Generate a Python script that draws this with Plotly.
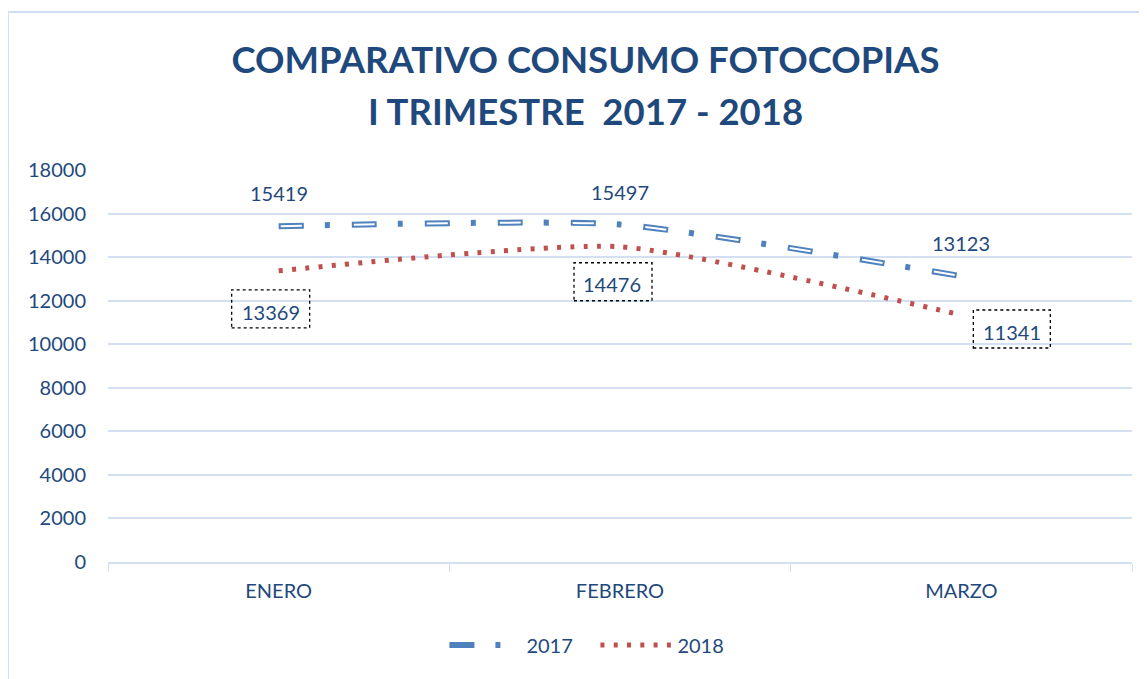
import plotly.graph_objects as go

# ---- data ----
meses = ["ENERO", "FEBRERO", "MARZO"]
consumo_2017 = [15419, 15497, 13123]
consumo_2018 = [13369, 14476, 11341]
y_ticks = [0, 2000, 4000, 6000, 8000, 10000, 12000, 14000, 16000, 18000]
y_tick_labels = [str(v) for v in y_ticks]
title_line1 = "COMPARATIVO CONSUMO FOTOCOPIAS"
title_line2 = "I TRIMESTRE\u00a0\u00a02017 - 2018"

FONT = "Lato"
TXT = "#1F497D"
BLUE = "#4F81BD"
RED = "#C0504D"
GRID = "#D3E0F1"
SMOOTH = 0.55

plot_top, plot_h, plot_l, plot_w = 162, 392, 100, 1024

fig = go.Figure()

# 2017: compound (double) long-dash-dot line
fig.add_trace(go.Scatter(
    x=meses, y=consumo_2017, mode="lines", name="2017",
    line=dict(color=BLUE, width=6, shape="spline", smoothing=SMOOTH,
              dash="25px,21px,5px,22px"),
))
fig.add_trace(go.Scatter(
    x=meses, y=consumo_2017, mode="lines", name="2017 inner", showlegend=False,
    hoverinfo="skip",
    line=dict(color="white", width=2, shape="spline", smoothing=SMOOTH,
              dash="0px,2px,21px,50px"),
))
# 2018: dotted line
fig.add_trace(go.Scatter(
    x=meses, y=consumo_2018, mode="lines", name="2018",
    line=dict(color=RED, width=5, shape="spline", smoothing=SMOOTH,
              dash="4px,9.3px"),
))

annotations = []
shapes = []

# second title line (screen centre x≈585, y≈112)
annotations.append(dict(x=(577 - plot_l) / plot_w, y=1 + (plot_top - 103.0) / plot_h,
                        xref="paper", yref="paper",
                        xanchor="center", yanchor="middle", showarrow=False,
                        text="<b>" + title_line2 + "</b>",
                        font=dict(family=FONT, size=36.5, color=TXT)))

# 2017 labels above the points
for m, v in zip(meses, consumo_2017):
    annotations.append(dict(x=m, y=v, xref="x", yref="y", text=str(v),
                            showarrow=False, yshift=33,
                            font=dict(family=FONT, size=20, color=TXT)))

# 2018 labels with dotted boxes
lab_shift = [(-8, -41), (-8, -37), (51, -17)]
box_off = [(-47, 31, -57, -19), (-46, 32, -54, -16), (12, 89, -33, 5)]
for i, (m, v) in enumerate(zip(meses, consumo_2018)):
    dx, dy = lab_shift[i]
    annotations.append(dict(x=m, y=v, xref="x", yref="y", text=str(v),
                            showarrow=False, xshift=dx, yshift=dy,
                            font=dict(family=FONT, size=20, color=TXT)))
    x0, x1, y0, y1 = box_off[i]
    shapes.append(dict(type="rect", xref="x", yref="y",
                       xsizemode="pixel", ysizemode="pixel",
                       xanchor=i, yanchor=v, x0=x0, x1=x1, y0=y0, y1=y1,
                       line=dict(color="black", width=1.3, dash="dot"),
                       fillcolor="rgba(0,0,0,0)"))

# chart border (left and top visible)
shapes.append(dict(type="rect", xref="paper", yref="paper",
                   x0=-0.0977, x1=1.1, y0=-0.4, y1=1.403,
                   line=dict(color="#D0DEF2", width=2), layer="below"))

fig.update_layout(
    width=1139, height=671,
    margin=dict(l=plot_l, r=15, t=plot_top, b=117),
    paper_bgcolor="white", plot_bgcolor="white",
    title=dict(text="<b>" + title_line1 + "</b>", x=0.507, xanchor="center",
               y=1.0 - 52.0 / 671, yanchor="middle",
               font=dict(family=FONT, size=36.5, color=TXT)),
    font=dict(family=FONT, size=20, color=TXT),
    showlegend=True,
    legend=dict(orientation="h", x=0.476, xanchor="center", y=-0.212,
                yanchor="middle", font=dict(family=FONT, size=20, color=TXT),
                itemwidth=72, entrywidth=64, entrywidthmode="pixels"),
    annotations=annotations,
    shapes=shapes,
)

fig.update_xaxes(
    type="category", range=[-0.5, 2.5],
    showline=True, linecolor=GRID, linewidth=1.5,
    ticks="outside", tickson="boundaries", ticklen=8, tickcolor=GRID,
    showgrid=False, zeroline=False,
    tickfont=dict(family=FONT, size=20, color=TXT),
    ticklabelstandoff=10,
)
fig.update_yaxes(
    range=[0, 18000], tickvals=y_ticks, ticktext=y_tick_labels,
    showgrid=True, gridcolor=GRID, gridwidth=1.5,
    zeroline=False, showline=False,
    tickfont=dict(family=FONT, size=20, color=TXT),
    ticklabelstandoff=21,
)

fig.write_html("out.html")
